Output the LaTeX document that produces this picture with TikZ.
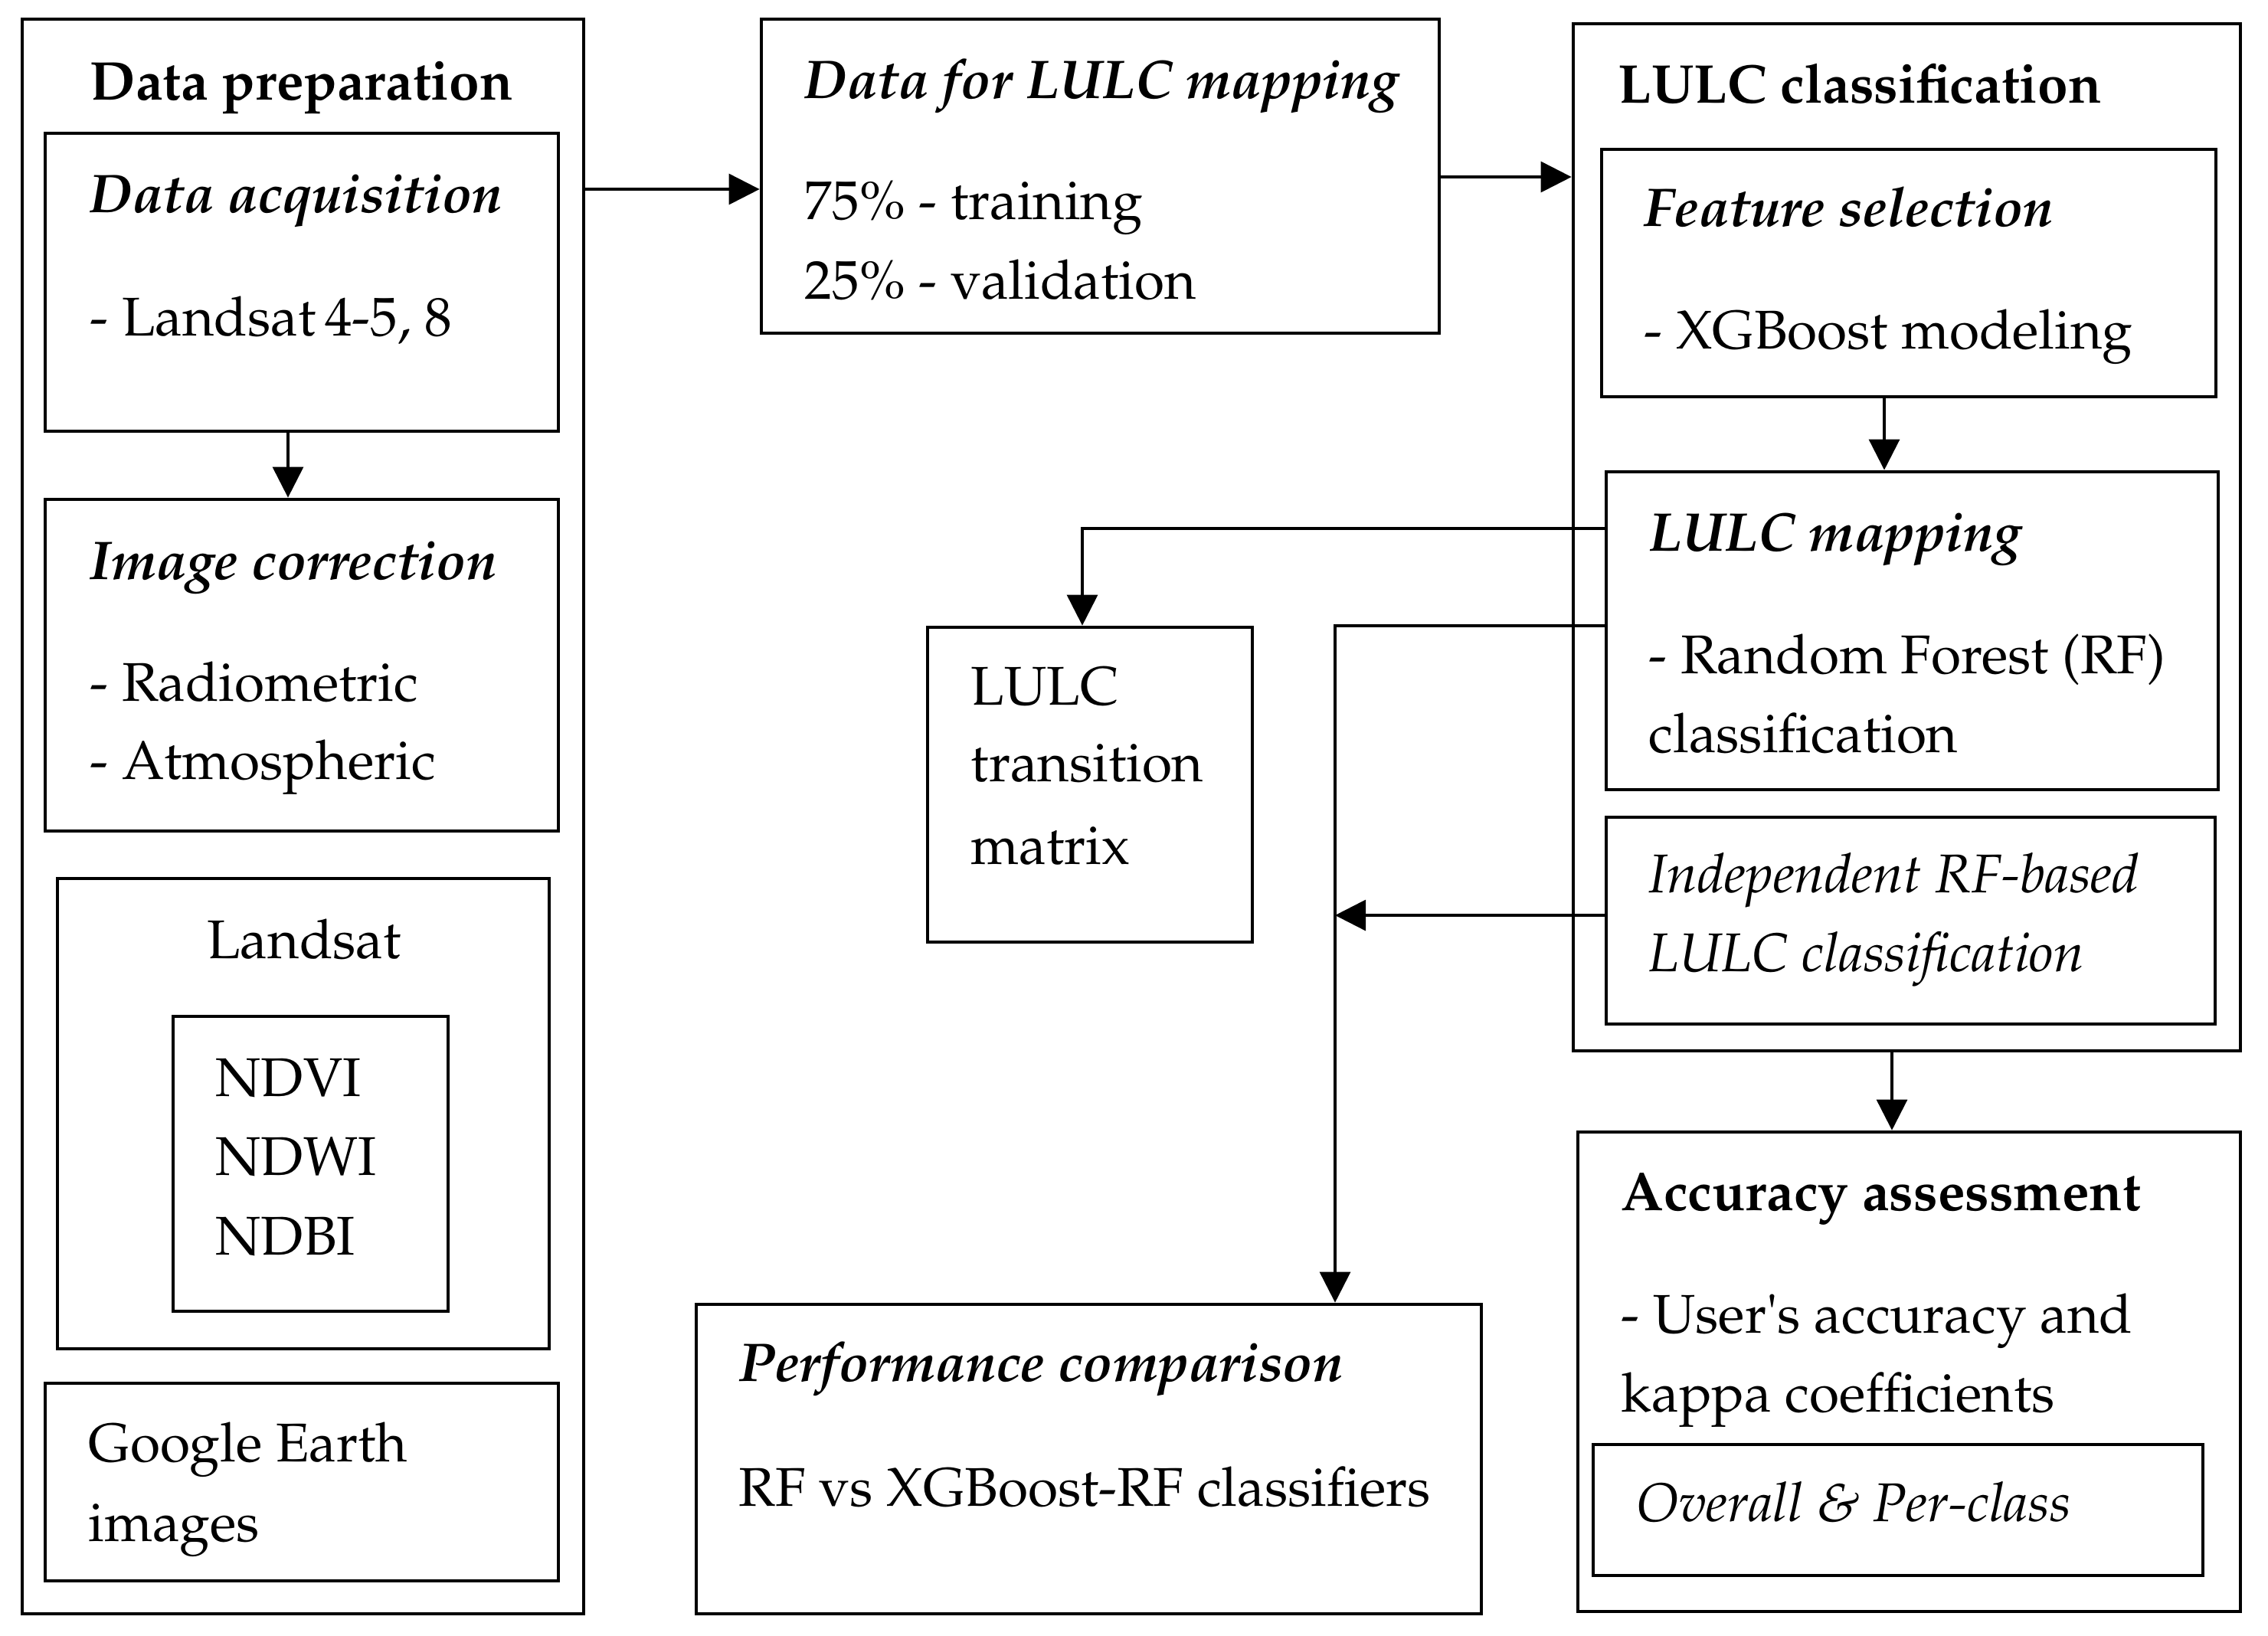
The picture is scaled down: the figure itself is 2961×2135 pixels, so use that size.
\documentclass[tikz,border=0pt]{standalone}
\usepackage[T1]{fontenc}
\usepackage{textcomp}
\usepackage{mathpazo}
\usetikzlibrary{fit,arrows.meta}
\tikzset{
  box/.style={draw=black, line width=1.2pt, inner sep=0pt, fit={#1}},
  txt/.style={anchor=base west, inner sep=0pt, font=\fontsize{17.8}{26}\selectfont},
  ctxt/.style={anchor=base, inner sep=0pt, font=\fontsize{17.8}{26}\selectfont},
  conn/.style={line width=0.8pt, -{Triangle[length=10pt,width=10pt]}},
  plain/.style={line width=0.8pt}
}
\begin{document}
\begin{tikzpicture}[x=0.25pt,y=-0.25pt]
\useasboundingbox (0,0) rectangle (2961,2135);
% boxes
\node[box={(29,25) (762,2107)}] (dp) {};
\node[box={(59,174) (729,563)}] (da) {};
\node[box={(59,652) (729,1085)}] (ic) {};
\node[box={(75,1147) (717,1761)}] (ls) {};
\node[box={(226,1327) (585,1712)}] (ni) {};
\node[box={(59,1806) (729,2064)}] (ge) {};
\node[box={(994,25) (1879,435)}] (dlm) {};
\node[box={(2054,31) (2925,1372)}] (lc) {};
\node[box={(2091,195) (2893,518)}] (fs) {};
\node[box={(2097,616) (2896,1031)}] (lm) {};
\node[box={(2097,1067) (2892,1337)}] (irf) {};
\node[box={(1211,819) (1635,1230)}] (tm) {};
\node[box={(909,1703) (1934,2107)}] (pc) {};
\node[box={(2060,1478) (2925,2104)}] (aa) {};
\node[box={(2080,1886) (2876,2057)}] (op) {};
% texts
\node[txt] (t1) at (117,130) {\bfseries Data preparation};
\node[txt] (t2) at (117,277) {\bfseries\itshape Data acquisition};
\node[txt] (t3) at (117,438) {- Landsat\,4-5, 8};
\node[txt] (t4) at (117,756) {\bfseries\itshape Image correction};
\node[txt] (t5) at (117,915) {- Radiometric};
\node[txt] (t6) at (117,1017) {- Atmospheric};
\node[ctxt] (t7) at (397,1251) {Landsat};
\node[txt] (t8) at (281,1431) {NDVI};
\node[txt] (t9) at (281,1534) {NDWI};
\node[txt] (t10) at (281,1638) {NDBI};
\node[txt] (t11) at (115,1908) {Google Earth};
\node[txt] (t12) at (115,2012) {images};
\node[txt] (t13) at (1050,128) {\bfseries\itshape Data for LULC mapping};
\node[txt] (t14) at (1050,286) {75\% - training};
\node[txt] (t15) at (1050,390) {25\% - validation};
\node[txt] (t16) at (2112,134) {\bfseries LULC classification};
\node[txt] (t17) at (2146,295) {\bfseries\itshape Feature selection};
\node[txt] (t18) at (2146,455) {- XGBoost modeling};
\node[txt] (t19) at (2152,719) {\bfseries\itshape LULC mapping};
\node[txt] (t20) at (2152,879) {- Random Forest (RF)};
\node[txt] (t21) at (2152,982) {classification};
\node[txt] (t22) at (2152,1165) {\itshape Independent RF-based};
\node[txt] (t23) at (2152,1268) {\itshape LULC classification};
\node[txt] (t24) at (1267,920) {LULC};
\node[txt] (t25) at (1267,1020) {transition};
\node[txt] (t26) at (1267,1128) {matrix};
\node[txt] (t27) at (964,1803) {\bfseries\itshape Performance comparison};
\node[txt] (t28) at (964,1966) {RF vs XGBoost-RF classifiers};
\node[txt] (t29) at (2116,1580) {\bfseries Accuracy assessment};
\node[txt] (t30) at (2116,1740) {- User\textquotesingle s accuracy and};
\node[txt] (t31) at (2116,1843) {kappa coefficients};
\node[txt] (t32) at (2136,1986) {\itshape Overall \& Per-class};
% helper coordinates
\coordinate (ya) at (0,247);
\coordinate (yb) at (0,231);
\coordinate (xa) at (376,0);
\coordinate (xb) at (2460,0);
\coordinate (xc) at (2470,0);
\coordinate (yc) at (0,690);
\coordinate (yd) at (0,817);
\coordinate (ye) at (0,1195);
\coordinate (xd) at (1413,0);
\coordinate (xe) at (1743,0);
\coordinate (je) at (1743,1195);
% connectors
\draw[conn] (dp.east |- ya) -- (dlm.west |- ya);
\draw[conn] (dlm.east |- yb) -- (lc.west |- yb);
\draw[conn] (xa |- da.south) -- (xa |- ic.north);
\draw[conn] (xb |- fs.south) -- (xb |- lm.north);
\draw[conn] (xc |- lc.south) -- (xc |- aa.north);
\draw[conn] (lm.west |- yc) -| (xd |- tm.north);
\draw[conn] (lm.west |- yd) -| (xe |- pc.north);
\draw[conn] (irf.west |- ye) -- (je);
\end{tikzpicture}
\end{document}
